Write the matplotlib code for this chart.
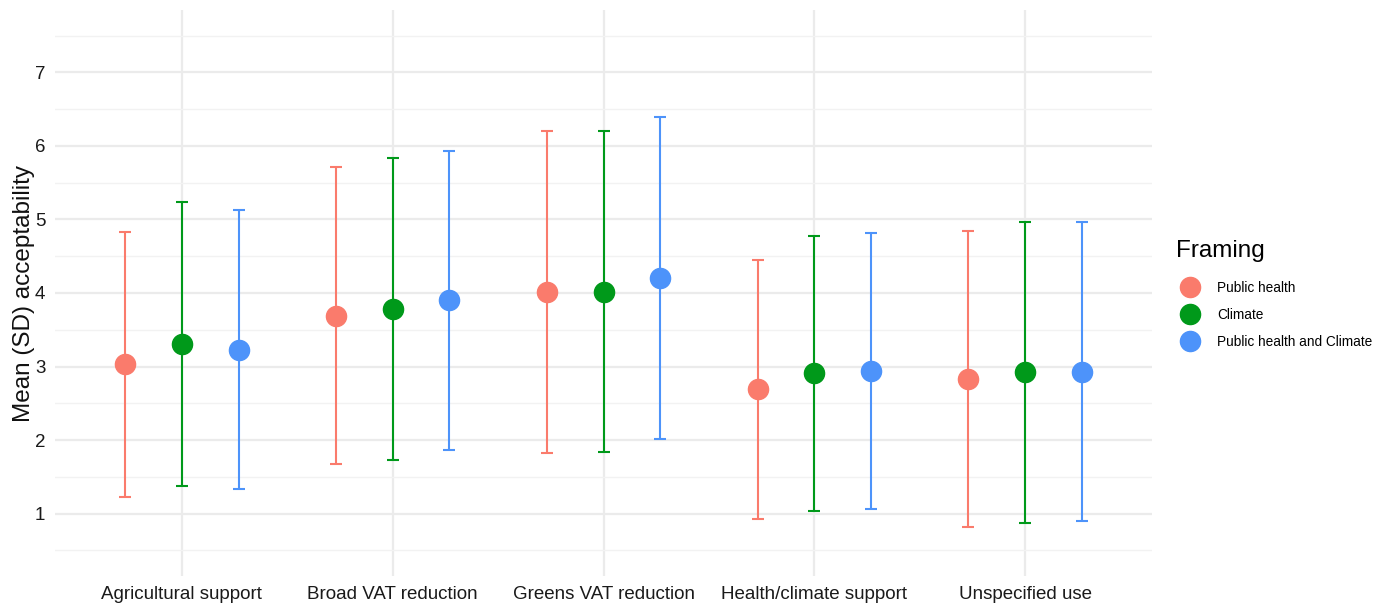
import numpy as np
import matplotlib.pyplot as plt
from matplotlib.lines import Line2D

plt.rcParams['font.family'] = ['Liberation Sans', 'DejaVu Sans']

# Mean and SD of acceptability per policy and framing
policies = ['Agricultural support', 'Broad VAT reduction', 'Greens VAT reduction',
            'Health/climate support', 'Unspecified use']
framings = ['Public health', 'Climate', 'Public health and Climate']

mean_health = [3.03, 3.69, 4.02, 2.69, 2.83]
sd_health = [1.80, 2.02, 2.19, 1.76, 2.02]
mean_climate = [3.31, 3.78, 4.02, 2.91, 2.92]
sd_climate = [1.93, 2.05, 2.18, 1.87, 2.05]
mean_both = [3.23, 3.90, 4.21, 2.94, 2.93]
sd_both = [1.90, 2.03, 2.19, 1.88, 2.03]

means = [mean_health, mean_climate, mean_both]
sds = [sd_health, sd_climate, sd_both]
colors = ['#FA7B6C', '#00991A', '#4D93FA']

fig = plt.figure(figsize=(13.88, 6.06), dpi=100)
ax = fig.add_axes([55 / 1388, 1 - 576 / 606, 1097 / 1388, 566 / 606])

x = np.arange(len(policies))
offsets = [-0.27, 0, 0.27]
for m, s, c, off in zip(means, sds, colors, offsets):
    ax.errorbar(x + off, m, yerr=s, fmt='o', color=c, ecolor=c, elinewidth=1.5,
                capsize=4.3, capthick=1.5, markersize=14.5, zorder=3)

# light ggplot-style grid
ax.set_xlim(-0.6, len(policies) - 0.4)
ax.set_ylim(0.15, 7.85)
ax.set_yticks(range(1, 8))
ax.set_yticks(np.arange(0.5, 8, 1), minor=True)
ax.set_xticks(x)
ax.set_xticklabels(policies)
ax.grid(which='major', color='#EBEBEB', linewidth=1.6)
ax.grid(which='minor', axis='y', color='#F2F2F2', linewidth=1.0)
ax.set_axisbelow(True)
for sp in ax.spines.values():
    sp.set_visible(False)
ax.tick_params(which='both', length=0, labelsize=13.5, labelcolor='#1A1A1A', pad=7)
ax.set_ylabel('Mean (SD) acceptability', fontsize=17.5, color='#111111', labelpad=-0.5)

handles = [Line2D([], [], marker='o', linestyle='', color=c, markersize=14.5) for c in colors]
leg = fig.legend(handles, framings, loc='upper left', bbox_to_anchor=(1164 / 1388, 1 - 228 / 606),
                 frameon=False, title='Framing', title_fontsize=17.5, fontsize=9.8,
                 handletextpad=1.0, labelspacing=0.95, alignment='left')
# a bit more room between the title and the keys
leg._legend_box.sep = 0.95 * 9.8 + 4

fig.savefig('out.png', dpi=100)
